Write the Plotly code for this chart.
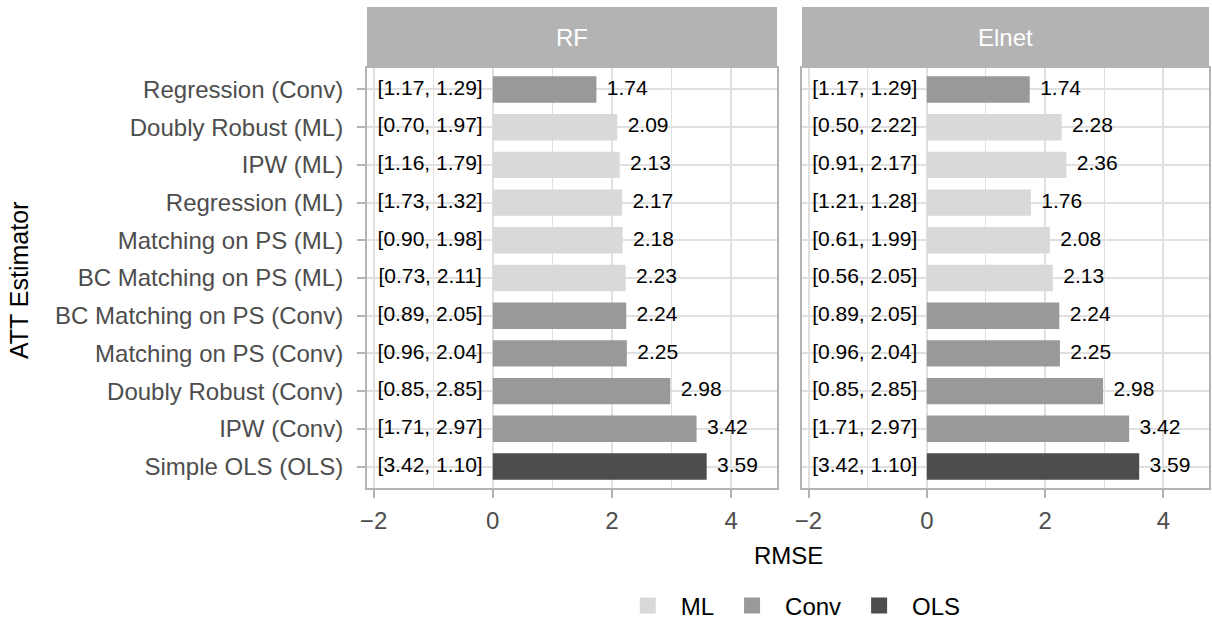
import plotly.graph_objects as go

# ---------------- data ----------------
estimators = [
    "Regression (Conv)", "Doubly Robust (ML)", "IPW (ML)", "Regression (ML)",
    "Matching on PS (ML)", "BC Matching on PS (ML)", "BC Matching on PS (Conv)",
    "Matching on PS (Conv)", "Doubly Robust (Conv)", "IPW (Conv)", "Simple OLS (OLS)",
]
groups = ["Conv", "ML", "ML", "ML", "ML", "ML", "Conv", "Conv", "Conv", "Conv", "OLS"]

rf_rmse = [1.74, 2.09, 2.13, 2.17, 2.18, 2.23, 2.24, 2.25, 2.98, 3.42, 3.59]
rf_ci = ["[1.17, 1.29]", "[0.70, 1.97]", "[1.16, 1.79]", "[1.73, 1.32]", "[0.90, 1.98]",
         "[0.73, 2.11]", "[0.89, 2.05]", "[0.96, 2.04]", "[0.85, 2.85]", "[1.71, 2.97]",
         "[3.42, 1.10]"]

elnet_rmse = [1.74, 2.28, 2.36, 1.76, 2.08, 2.13, 2.24, 2.25, 2.98, 3.42, 3.59]
elnet_ci = ["[1.17, 1.29]", "[0.50, 2.22]", "[0.91, 2.17]", "[1.21, 1.28]", "[0.61, 1.99]",
            "[0.56, 2.05]", "[0.89, 2.05]", "[0.96, 2.04]", "[0.85, 2.85]", "[1.71, 2.97]",
            "[3.42, 1.10]"]

panels = ["RF", "Elnet"]
group_order = ["ML", "Conv", "OLS"]
x_ticks = [-2, 0, 2, 4]
x_tick_text = ["\u22122", "0", "2", "4"]
x_minor = [-1, 1, 3]
ci_label_x = -1.05

# ---------------- style ----------------
FONT = "Liberation Sans, Arial, Helvetica, sans-serif"
colors = {"ML": "#D9D9D9", "Conv": "#999999", "OLS": "#4D4D4D"}
GRID = "#E0E0E0"
BORDER = "#B3B3B3"
STRIP = "#B3B3B3"

W, H = 1212, 621
x_domains = [[367 / W, 777 / W], [802 / W, 1209 / W]]
y_domain = [1 - 488 / H, 1 - 68 / H]
x_range = [-2.11, 4.77]
y_range = [len(estimators) - 1 + 0.57, -0.57]

fig = go.Figure()

panel_data = [(rf_rmse, rf_ci), (elnet_rmse, elnet_ci)]
for p, (vals, cis) in enumerate(panel_data):
    xa = "x" if p == 0 else "x2"
    ya = "y" if p == 0 else "y2"
    for g in group_order:
        ys = [e for e, gg in zip(estimators, groups) if gg == g]
        xs = [v for v, gg in zip(vals, groups) if gg == g]
        fig.add_trace(go.Bar(
            x=xs, y=ys, orientation="h", width=0.7,
            marker=dict(color=colors[g], line=dict(width=0)),
            xaxis=xa, yaxis=ya, showlegend=False, name=g,
        ))
    # value labels
    fig.add_trace(go.Scatter(
        x=vals, y=estimators, mode="markers+text",
        text=[f"{v:.2f}" for v in vals], textposition="middle right",
        marker=dict(size=15, opacity=0),
        textfont=dict(family=FONT, size=21, color="#000000"),
        xaxis=xa, yaxis=ya, showlegend=False, hoverinfo="skip",
    ))
    # interval labels
    fig.add_trace(go.Scatter(
        x=[ci_label_x] * len(cis), y=estimators, mode="text",
        text=cis, textposition="middle center",
        textfont=dict(family=FONT, size=21, color="#000000"),
        xaxis=xa, yaxis=ya, showlegend=False, hoverinfo="skip",
    ))

# legend entries
for g in group_order:
    fig.add_trace(go.Scatter(
        x=[None], y=[None], mode="markers", name=g,
        marker=dict(symbol="square", size=25, color=colors[g]),
        xaxis="x", yaxis="y", showlegend=True,
    ))

axis_common = dict(
    range=x_range, tickvals=x_ticks, ticktext=x_tick_text,
    showgrid=True, gridcolor=GRID, gridwidth=1.6,
    minor=dict(tickvals=x_minor, showgrid=True, gridcolor=GRID, gridwidth=1.2, ticks=""),
    zeroline=False, showline=True, mirror=True, linecolor=BORDER, linewidth=2,
    ticks="outside", ticklen=8, tickwidth=2, tickcolor=BORDER,
    ticklabelstandoff=2,
    tickfont=dict(family=FONT, size=24, color="#4D4D4D"),
    fixedrange=True,
)
fig.update_layout(
    xaxis=dict(domain=x_domains[0], anchor="y", **axis_common),
    xaxis2=dict(domain=x_domains[1], anchor="y2", **axis_common),
    yaxis=dict(
        domain=y_domain, anchor="x", type="category",
        categoryorder="array", categoryarray=estimators, range=y_range,
        showgrid=True, gridcolor=GRID, gridwidth=1.6, zeroline=False,
        showline=True, mirror=True, linecolor=BORDER, linewidth=2,
        ticks="outside", ticklen=8, tickwidth=2, tickcolor=BORDER,
        ticklabelstandoff=9, automargin=False,
        tickfont=dict(family=FONT, size=24, color="#4D4D4D"),
    ),
    yaxis2=dict(
        domain=y_domain, anchor="x2", type="category",
        categoryorder="array", categoryarray=estimators, range=y_range,
        showgrid=True, gridcolor=GRID, gridwidth=1.6, zeroline=False,
        showline=True, mirror=True, linecolor=BORDER, linewidth=2,
        showticklabels=False, ticks="", automargin=False,
    ),
    barmode="overlay",
    width=W, height=H,
    margin=dict(l=0, r=0, t=0, b=0, autoexpand=False),
    paper_bgcolor="white", plot_bgcolor="white",
    font=dict(family=FONT, size=24, color="#000000"),
    legend=dict(
        orientation="h", x=0.652, xanchor="center", y=1 - 606 / H, yanchor="middle",
        font=dict(family=FONT, size=24, color="#000000"),
        itemsizing="trace", itemwidth=56, bgcolor="rgba(0,0,0,0)",
    ),
)

# facet strips
shapes = []
annotations = []
for p, name in enumerate(panels):
    shapes.append(dict(
        type="rect", xref="paper", yref="paper",
        x0=x_domains[p][0], x1=x_domains[p][1], y0=y_domain[1], y1=1 - 7 / H,
        fillcolor=STRIP, line=dict(width=0), layer="below",
    ))
    annotations.append(dict(
        text=name, xref="paper", yref="paper",
        x=(x_domains[p][0] + x_domains[p][1]) / 2, y=(y_domain[1] + 1 - 7 / H) / 2,
        xanchor="center", yanchor="middle", showarrow=False,
        font=dict(family=FONT, size=24, color="#FFFFFF"),
    ))

annotations.append(dict(
    text="RMSE", xref="paper", yref="paper", x=788 / W, y=1 - 555 / H,
    xanchor="center", yanchor="middle", showarrow=False,
    font=dict(family=FONT, size=24, color="#000000"),
))
annotations.append(dict(
    text="ATT Estimator", xref="paper", yref="paper", x=19 / W, y=1 - 281 / H,
    xanchor="center", yanchor="middle", showarrow=False, textangle=-90,
    font=dict(family=FONT, size=25, color="#000000"),
))
fig.update_layout(shapes=shapes, annotations=annotations)

fig.write_html("out.html")
